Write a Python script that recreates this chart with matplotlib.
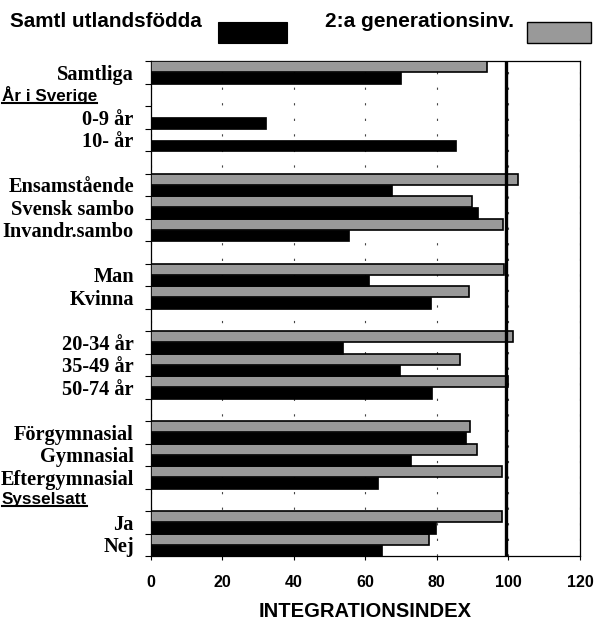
import matplotlib
matplotlib.use('Agg')
import matplotlib.pyplot as plt
from matplotlib.patches import Rectangle
from matplotlib.lines import Line2D
import numpy as np

nan = np.nan

# rader uppifrån och ner, tomma rader = rubrik/mellanrum
etiketter = ['Samtliga', '', '0-9 år', '10- år', '',
             'Ensamstående', 'Svensk sambo', 'Invandr.sambo', '',
             'Man', 'Kvinna', '',
             '20-34 år', '35-49 år', '50-74 år', '',
             'Förgymnasial', 'Gymnasial', 'Eftergymnasial', '',
             'Ja', 'Nej']
utlandsfodda = [70.0, nan, 32.2, 85.3, nan,
                67.5, 91.4, 55.4, nan,
                61.1, 78.3, nan,
                53.9, 69.8, 78.6, nan,
                88.2, 72.9, 63.5, nan,
                79.8, 64.7]
andra_gen = [94.1, nan, nan, nan, nan,
             102.8, 89.8, 98.6, nan,
             98.7, 88.9, nan,
             101.2, 86.4, 99.9, nan,
             89.2, 91.2, 98.1, nan,
             98.1, 77.9]
rubriker = {'År i Sverige': 1, 'Sysselsatt': 19}
xticks = [0, 20, 40, 60, 80, 100, 120]
referens = 99.4

SVART = '#000000'
GRA = '#999999'
W, H = 594, 621

fig = plt.figure(figsize=(W / 100, H / 100), dpi=100)
ax = fig.add_axes([150.5 / W, 1 - 556 / H, (580 - 150.5) / W, (556 - 61) / H])

y = np.arange(len(etiketter))
ax.barh(y - 0.25, andra_gen, height=0.5, color=GRA, edgecolor=SVART, linewidth=1.2, zorder=3)
ax.barh(y + 0.25, utlandsfodda, height=0.5, color=SVART, edgecolor=SVART, linewidth=0.5, zorder=3)
ax.axvline(referens, color=SVART, linewidth=2.4, zorder=5)

ax.set_xlim(0, 120)
ax.set_ylim(len(etiketter) - 0.5, -0.5)
ax.set_xticks(xticks)
ax.set_xticklabels([str(v) for v in xticks], fontfamily='Liberation Sans',
                   fontweight='bold', fontsize=11.5)
ax.tick_params(axis='x', length=3, width=0.8, pad=11)
ax.xaxis.grid(True, color='#444444', linewidth=0.8, linestyle=(0, (2.0, 12.0)), zorder=1)
ax.set_axisbelow(True)

ax.set_yticks(y)
ax.set_yticklabels(etiketter, fontfamily='Liberation Serif', fontweight='bold', fontsize=14.7)
ax.tick_params(axis='y', length=0, pad=12)
ax.set_yticks(np.arange(len(etiketter) + 1) - 0.5, minor=True)
ax.tick_params(axis='y', which='minor', length=4, width=0.8, direction='out')

for s in ax.spines.values():
    s.set_linewidth(0.9)

ax.set_xlabel('INTEGRATIONSINDEX', fontfamily='Liberation Sans', fontweight='bold',
              fontsize=14.5, labelpad=8)

# underlinjerade rubriker till vänster
fig.canvas.draw()
r = fig.canvas.get_renderer()
for namn, rad in rubriker.items():
    yy = ax.transData.transform((0, rad))[1] / fig.bbox.height
    t = fig.text(2 / W, yy, namn, fontfamily='Liberation Sans', fontweight='bold',
                 fontsize=12.3, va='center', ha='left')
    bb = t.get_window_extent(r)
    uy = (bb.y0 + 1) / H
    fig.add_artist(Line2D([bb.x0 / W, bb.x1 / W], [uy, uy], color=SVART, linewidth=1.5))

# förklaring överst
fig.text(10 / W, 1 - 27 / H, 'Samtl utlandsfödda', fontfamily='Liberation Sans',
         fontweight='bold', fontsize=14.9, va='baseline', ha='left')
fig.text(325 / W, 1 - 27 / H, '2:a generationsinv.', fontfamily='Liberation Sans',
         fontweight='bold', fontsize=15, va='baseline', ha='left')
fig.add_artist(Rectangle((218 / W, 1 - 43 / H), 69 / W, 21 / H, transform=fig.transFigure,
                         facecolor=SVART, edgecolor=SVART, linewidth=0.8))
fig.add_artist(Rectangle((527 / W, 1 - 43 / H), 64 / W, 21 / H, transform=fig.transFigure,
                         facecolor=GRA, edgecolor=SVART, linewidth=1.0))

fig.savefig('out.png', dpi=100)
